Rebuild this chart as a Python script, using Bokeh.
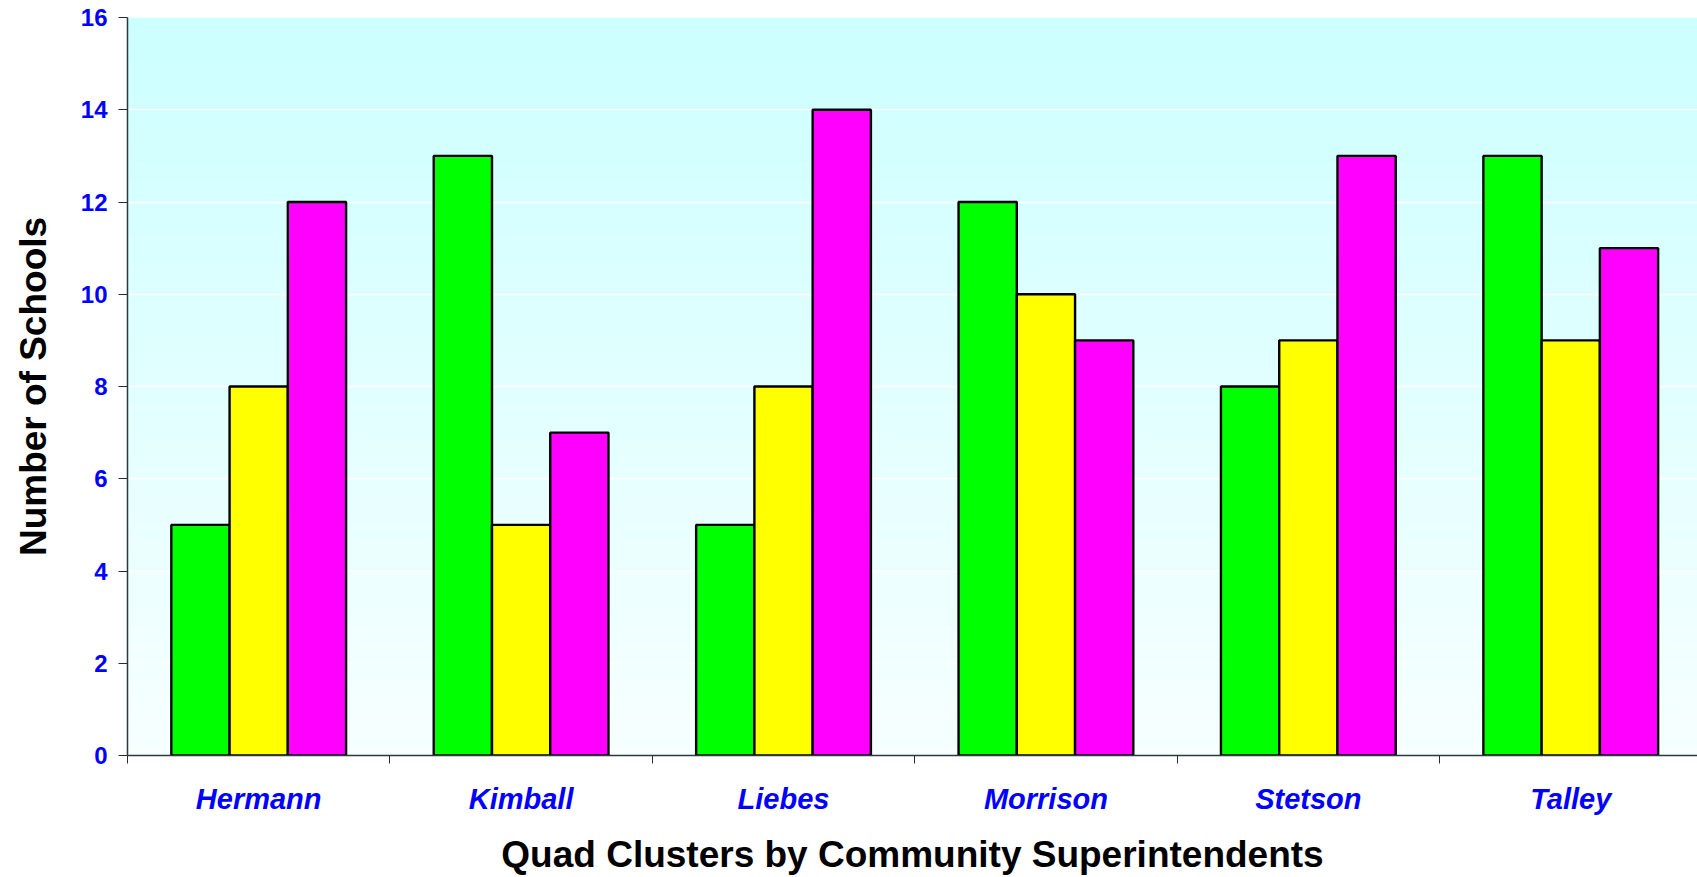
import numpy as np
from bokeh.plotting import figure
from bokeh.models import Range1d, FixedTicker
from bokeh.embed import file_html
from bokeh.resources import INLINE

categories = ["Hermann", "Kimball", "Liebes", "Morrison", "Stetson", "Talley"]
series_green = [5, 13, 5, 12, 8, 13]
series_yellow = [8, 5, 8, 10, 9, 9]
series_magenta = [12, 7, 14, 9, 13, 11]
y_ticks = [0, 2, 4, 6, 8, 10, 12, 14, 16]

series = [("Green", series_green, "#00FF00"),
          ("Yellow", series_yellow, "#FFFF00"),
          ("Magenta", series_magenta, "#FF00FF")]

FONT = "Liberation Sans"
n = len(categories)
bar_w = 0.222

p = figure(width=1697, height=877, output_backend="svg", toolbar_location=None,
           x_range=Range1d(0, 5.983), y_range=Range1d(0, 16),
           min_border_left=127, min_border_top=17, min_border_right=0,
           min_border_bottom=121)
p.outline_line_color = None
p.background_fill_color = "white"
p.border_fill_color = "white"

# gradient background of plot area
rows = 256
img = np.zeros((rows, 1), dtype=np.uint32)
view = img.view(dtype=np.uint8).reshape((rows, 1, 4))
for i in range(rows):
    f = i / (rows - 1)
    r = int(round(247 + (204 - 247) * f))
    view[i, 0, 0] = r
    view[i, 0, 1] = 255
    view[i, 0, 2] = 255
    view[i, 0, 3] = 255
p.image_rgba(image=[img], x=0, y=0, dw=6, dh=16, level="image")

for j, (name, vals, col) in enumerate(series):
    xs = [i + 0.5 + (j - 1) * bar_w for i in range(n)]
    p.vbar(x=xs, top=vals, bottom=0, width=bar_w, fill_color=col,
           line_color="black", line_width=2.4)

# grid
p.xgrid.grid_line_color = None
p.ygrid.grid_line_color = "white"
p.ygrid.grid_line_width = 1.5
p.ygrid.level = "underlay"

# y axis
p.yaxis.ticker = FixedTicker(ticks=y_ticks)
p.yaxis.axis_label = "Number of Schools"
p.yaxis.axis_label_text_font = FONT
p.yaxis.axis_label_text_font_size = "37px"
p.yaxis.axis_label_text_font_style = "bold"
p.yaxis.axis_label_text_color = "black"
p.yaxis.axis_label_standoff = 24
p.yaxis.major_label_text_font = FONT
p.yaxis.major_label_text_font_size = "24px"
p.yaxis.major_label_text_font_style = "bold"
p.yaxis.major_label_text_color = "#0000FF"
p.yaxis.major_label_standoff = 11
p.yaxis.major_tick_out = 9
p.yaxis.major_tick_in = 0
p.yaxis.minor_tick_line_color = None
p.yaxis.axis_line_color = "#2a3a3a"
p.yaxis.axis_line_width = 1.5
p.yaxis.major_tick_line_color = "#2a2a2a"

# x axis
centers = [i + 0.5 for i in range(n)]
p.xaxis.ticker = FixedTicker(ticks=centers, minor_ticks=list(range(n + 1)))
p.xaxis.major_label_overrides = {c: lab for c, lab in zip(centers, categories)}
p.xaxis.axis_label = "Quad Clusters by Community Superintendents"
p.xaxis.axis_label_text_font = FONT
p.xaxis.axis_label_text_font_size = "37px"
p.xaxis.axis_label_text_font_style = "bold"
p.xaxis.axis_label_text_color = "black"
p.xaxis.axis_label_standoff = 16
p.xaxis.major_label_text_font = FONT
p.xaxis.major_label_text_font_size = "29px"
p.xaxis.major_label_text_font_style = "bold italic"
p.xaxis.major_label_text_color = "#0000FF"
p.xaxis.major_label_standoff = 19
p.xaxis.major_tick_out = 0
p.xaxis.major_tick_in = 0
p.xaxis.major_tick_line_color = None
p.xaxis.minor_tick_out = 8
p.xaxis.minor_tick_in = 0
p.xaxis.minor_tick_line_color = "#2a2a2a"
p.xaxis.axis_line_color = "#2a3a3a"
p.xaxis.axis_line_width = 1.5

open("out.html", "w").write(file_html(p, INLINE))
